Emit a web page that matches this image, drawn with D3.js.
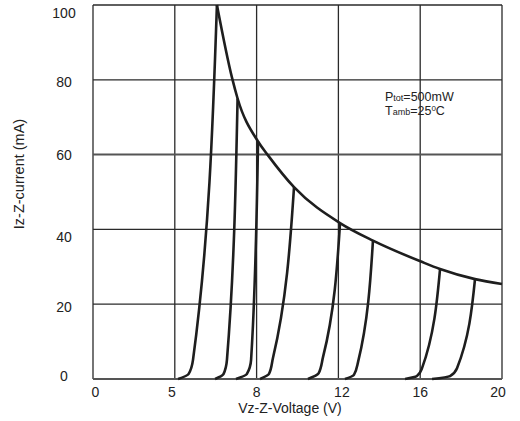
<!DOCTYPE html>
<html>
<head>
<meta charset="utf-8">
<script src="https://cdn.jsdelivr.net/npm/d3@7"></script>
<style>
  html, body { margin: 0; padding: 0; background: #fff; }
  svg { display: block; font-family: "Liberation Sans", Arial, sans-serif; }
</style>
</head>
<body>
<svg id="chart" width="520" height="421"></svg>
<script>
// ---- data (axis units: grid columns at 0,4,8,12,16,20 labelled as in the original) ----
const xTickValues = [0, 4, 8, 12, 16, 20];
const xTickLabels = ["0", "5", "8", "12", "16", "20"];
const yTickValues = [0, 20, 40, 60, 80, 100];
const yTickLabels = ["0", "20", "40", "60", "80", "100"];

// max power dissipation curve (Ptot = 500 mW)
const powerV = [6.06, 6.80, 7.07, 8.07, 8.56, 9.83, 12.08, 13.69, 16.04, 16.97, 18.68, 20];
const powerI = [100, 80.5, 75.0, 63.5, 59.8, 51.3, 41.7, 37.0, 31.4, 29.4, 26.7, 25.4];

// zener characteristics: [start, knee-bend, knee, top]
const zener1V = [4.16, 4.67, 4.89, 6.06];   const zener1I = [0, 1.3, 5.1, 100];
const zener2V = [5.97, 6.38, 6.55, 7.07];   const zener2I = [0, 1.3, 5.1, 75.0];
const zener3V = [6.99, 7.52, 7.73, 8.07];   const zener3I = [0, 1.3, 5.1, 63.5];
const zener4V = [8.17, 8.61, 8.80, 9.83];   const zener4I = [0, 1.4, 5.6, 51.3];
const zener5V = [10.51, 11.03, 11.25, 12.08]; const zener5I = [0, 1.5, 5.9, 41.7];
const zener6V = [12.32, 12.76, 12.96, 13.69]; const zener6I = [0, 1.1, 4.5, 37.0];
const zener7V = [15.26, 15.84, 16.09, 16.97]; const zener7I = [0, 0.8, 2.9, 29.4];
const zener8V = [16.58, 17.46, 17.80, 18.68]; const zener8I = [0, 0.8, 2.9, 26.7];

const zenerV = [zener1V, zener2V, zener3V, zener4V, zener5V, zener6V, zener7V, zener8V];
const zenerI = [zener1I, zener2I, zener3I, zener4I, zener5I, zener6I, zener7I, zener8I];

// ---- layout ----
const mLeft = 93, mRight = 502, mTop = 5, mBottom = 379;
const svg = d3.select("#chart");
const x = d3.scaleLinear().domain([0, 20]).range([mLeft, mRight]);
const y = d3.scaleLinear().domain([0, 100]).range([mBottom, mTop]);

const ink = "#1e1e1e";

// grid
const grid = svg.append("g");
grid.selectAll("line.v").data(xTickValues).enter().append("line")
  .attr("x1", d => x(d)).attr("x2", d => x(d))
  .attr("y1", y(0)).attr("y2", y(100))
  .attr("stroke", "#2a2a2a").attr("stroke-width", 1.3);
grid.selectAll("line.h").data(yTickValues).enter().append("line")
  .attr("y1", d => y(d)).attr("y2", d => y(d))
  .attr("x1", x(0)).attr("x2", x(20))
  .attr("stroke", d => (d === 60 || d === 0) ? "#555" : "#2a2a2a")
  .attr("stroke-width", d => (d === 60 || d === 0) ? 2 : 1.3);

// axes labels via d3 axes (domain/ticks hidden, only text)
const xAxis = d3.axisBottom(x).tickValues(xTickValues)
  .tickFormat((d, i) => xTickLabels[i]).tickSize(0).tickPadding(0);
const gx = svg.append("g").attr("transform", `translate(0,${mBottom})`).call(xAxis);
gx.select(".domain").remove();
gx.selectAll("text").attr("font-size", 14).attr("fill", "#222")
  .attr("font-family", "Liberation Sans, Arial, sans-serif")
  .attr("dy", null).attr("y", 18)
  .attr("dx", (d, i) => [2, -3.5, -0.5, 3, -0.5, -4.5][i]);

const yAxis = d3.axisLeft(y).tickValues(yTickValues)
  .tickFormat((d, i) => yTickLabels[i]).tickSize(0).tickPadding(0);
const gy = svg.append("g").attr("transform", `translate(${64},0)`).call(yAxis);
gy.select(".domain").remove();
gy.selectAll("text").attr("font-size", 14).attr("fill", "#222")
  .attr("font-family", "Liberation Sans, Arial, sans-serif")
  .attr("text-anchor", "middle").attr("x", 0)
  .attr("dy", (d, i) => [-4, 2, 7, 0, 1.5, 7][i] + 5);

// power curve
const lineMX = d3.line().x(d => x(d[0])).y(d => y(d[1])).curve(d3.curveMonotoneX);
svg.append("path")
  .datum(powerV.map((v, i) => [v, powerI[i]]))
  .attr("d", lineMX)
  .attr("fill", "none").attr("stroke", ink).attr("stroke-width", 2.6);

// zener curves
const lineMY = d3.line().x(d => x(d[0])).y(d => y(d[1])).curve(d3.curveMonotoneY);
svg.selectAll("path.zener")
  .data(zenerV.map((vs, k) => vs.map((v, i) => [v, zenerI[k][i]])))
  .enter().append("path").attr("class", "zener")
  .attr("d", lineMY)
  .attr("fill", "none").attr("stroke", ink).attr("stroke-width", 2.6)
  .attr("stroke-linejoin", "round");

// axis titles
svg.append("text").attr("x", 290).attr("y", 413)
  .attr("text-anchor", "middle").attr("font-size", 14).attr("fill", "#222")
  .text("Vz-Z-Voltage (V)");
svg.append("text")
  .attr("transform", "translate(24,174) rotate(-90)")
  .attr("text-anchor", "middle").attr("font-size", 14.5).attr("fill", "#222")
  .text("Iz-Z-current (mA)");

// annotation
const ann = svg.append("g").attr("fill", "#222");
const t1 = ann.append("text").attr("x", 385).attr("y", 101).attr("font-size", 12.5);
t1.append("tspan").text("P");
t1.append("tspan").attr("font-size", 9).text("tot");
t1.append("tspan").text("=500mW");
const t2 = ann.append("text").attr("x", 385).attr("y", 115).attr("font-size", 12.5);
t2.append("tspan").text("T");
t2.append("tspan").attr("font-size", 9).text("amb");
t2.append("tspan").text("=25");
t2.append("tspan").attr("font-size", 8).attr("dy", -4.5).text("0");
t2.append("tspan").attr("dy", 4.5).text("C");
</script>
</body>
</html>
